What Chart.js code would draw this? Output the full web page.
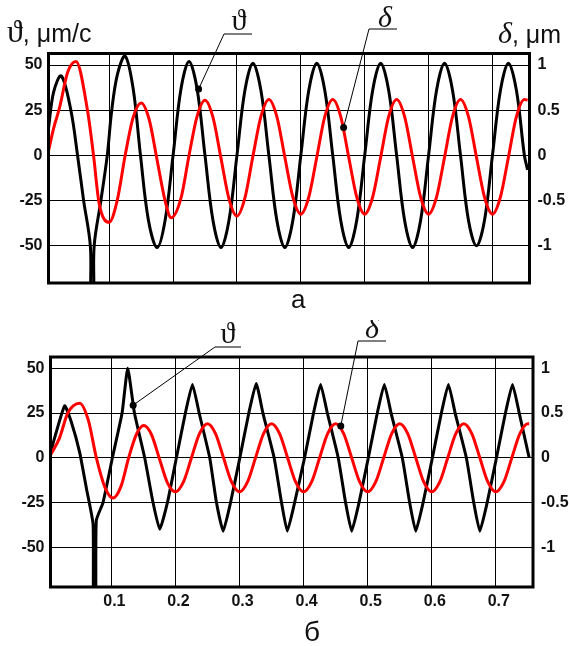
<!DOCTYPE html>
<html>
<head>
<meta charset="utf-8">
<script src="https://cdn.jsdelivr.net/npm/chart.js@4.4.1/dist/chart.umd.min.js"></script>
<style>
html, body { margin: 0; padding: 0; background: #fff; }
#wrap { position: relative; width: 569px; height: 646px; }
canvas { position: absolute; left: 0; }
#panelA { top: 0; }
#panelB { top: 320px; }
</style>
</head>
<body>
<div id="wrap">
  <canvas id="panelA" width="569" height="320"></canvas>
  <canvas id="panelB" width="569" height="326"></canvas>
</div>
<script>
const velTicks = [-50, -25, 0, 25, 50];
const dispTicks = [-1, -0.5, 0, 0.5, 1];
const timeTicks = [0.1, 0.2, 0.3, 0.4, 0.5, 0.6, 0.7];

// panel а : velocity (black, left axis) and displacement (red, right axis)
const timeVelA = [0.005, 0.013, 0.025, 0.04, 0.0505, 0.06, 0.0705, 0.0715, 0.0755, 0.0765,
    0.087, 0.097, 0.104, 0.113, 0.125, 0.1375, 0.149, 0.1615, 0.175, 0.1875, 0.2,
    0.2125, 0.225, 0.2375, 0.25, 0.2625, 0.275, 0.2875, 0.3, 0.3125, 0.325, 0.3375, 0.35,
    0.3625, 0.375, 0.3875, 0.4, 0.4125, 0.425, 0.4375, 0.45, 0.4625, 0.475, 0.4875, 0.5,
    0.5125, 0.525, 0.5375, 0.55, 0.5625, 0.575, 0.5875, 0.6, 0.6125, 0.625, 0.6375, 0.65,
    0.6625, 0.675, 0.6875, 0.7, 0.7125, 0.725, 0.7375, 0.75, 0.755];
const velA = [15, 35, 44, 25, 0, -25, -50, -80, -80, -50,
    -25, 0, 25, 45, 55, 37, 0, -36, -51, -36, 0,
    37, 52, 37, 0, -36, -51, -36, 0, 36, 51, 36, 0,
    -36, -51, -36, 0, 36, 51, 36, 0, -36, -51, -36, 0,
    36, 51, 36, 0, -36, -51, -36, 0, 36, 51, 36, 0,
    -36, -50, -36, 0, 36, 51, 36, 0, -8];

const timeDispA = [0.005, 0.013, 0.022, 0.035, 0.048, 0.066, 0.0755, 0.084, 0.1, 0.1125,
    0.125, 0.1375, 0.15, 0.1625, 0.175, 0.1875, 0.197, 0.2125, 0.225, 0.2375, 0.25,
    0.2625, 0.275, 0.2875, 0.3, 0.3125, 0.325, 0.3375, 0.35, 0.3625, 0.375, 0.3875, 0.4,
    0.4125, 0.425, 0.4375, 0.45, 0.4625, 0.475, 0.4875, 0.5, 0.5125, 0.525, 0.5375, 0.55,
    0.5625, 0.575, 0.5875, 0.6, 0.6125, 0.625, 0.6375, 0.65, 0.6625, 0.675, 0.6875, 0.7,
    0.7125, 0.725, 0.7375, 0.75, 0.755];
const dispA = [0.05, 0.3, 0.52, 0.92, 1.04, 0.5, 0, -0.52, -0.74, -0.5,
    0, 0.42, 0.58, 0.4, -0.05, -0.5, -0.69, -0.47, 0, 0.43, 0.61,
    0.42, -0.03, -0.48, -0.67, -0.47, -0.01, 0.43, 0.62, 0.43, -0.02, -0.46, -0.65,
    -0.46, -0.02, 0.43, 0.62, 0.43, -0.02, -0.46, -0.65, -0.46, -0.02, 0.43, 0.62,
    0.43, -0.02, -0.46, -0.65, -0.46, -0.02, 0.43, 0.62, 0.43, -0.02, -0.46, -0.65,
    -0.46, -0.02, 0.43, 0.62, 0.61];

// panel б
const timeVelB = [0.005, 0.027, 0.0375, 0.0505, 0.061, 0.0714, 0.072, 0.0755, 0.0765, 0.087,
    0.1016, 0.1167, 0.1255, 0.136, 0.152, 0.165, 0.1755,
    0.1875, 0.2015, 0.2155, 0.2265, 0.237, 0.2535, 0.264, 0.2745,
    0.286, 0.3005, 0.3145, 0.326, 0.3365, 0.354, 0.3655, 0.3745,
    0.386, 0.4015, 0.4155, 0.4265, 0.437, 0.454, 0.4655, 0.475,
    0.4865, 0.501, 0.515, 0.526, 0.5365, 0.554, 0.5655, 0.575,
    0.5865, 0.601, 0.615, 0.626, 0.6365, 0.654, 0.6655, 0.675,
    0.6865, 0.701, 0.715, 0.726, 0.7365, 0.752];
const velB = [3, 29, 20, 3, -17, -37, -80, -80, -35, -25,
    0, 25, 50, 25, 0, -25, -40,
    -25, 0, 25, 41, 25, 0, -25, -41,
    -25, 0, 25, 41.5, 25, 0, -25, -41,
    -25, 0, 25, 41, 25, 0, -25, -41,
    -25, 0, 25, 41, 25, 0, -25, -41,
    -25, 0, 25, 41, 25, 0, -25, -41,
    -25, 0, 25, 41, 25, 0];

const timeDispB = [0.005, 0.019, 0.032, 0.0505, 0.064, 0.0766, 0.09, 0.1026, 0.115, 0.127,
    0.139, 0.1505, 0.1625, 0.175, 0.1875, 0.2,
    0.2125, 0.225, 0.2375, 0.25, 0.2625, 0.275, 0.2875, 0.3, 0.3125, 0.325, 0.3375, 0.35,
    0.3625, 0.375, 0.3875, 0.4, 0.4125, 0.425, 0.4375, 0.45, 0.4625, 0.475, 0.4875, 0.5,
    0.5125, 0.525, 0.5375, 0.55, 0.5625, 0.575, 0.5875, 0.6, 0.6125, 0.625, 0.6375, 0.65,
    0.6625, 0.675, 0.6875, 0.7, 0.7125, 0.725, 0.7375, 0.75, 0.752];
const dispB = [0.03, 0.22, 0.5, 0.61, 0.42, 0, -0.33, -0.45, -0.32, 0,
    0.26, 0.36, 0.26, -0.01, -0.28, -0.38,
    -0.27, 0, 0.27, 0.38, 0.27, 0, -0.27, -0.38, -0.27, 0, 0.27, 0.38,
    0.27, 0, -0.27, -0.38, -0.27, 0, 0.27, 0.38, 0.27, 0, -0.27, -0.38,
    -0.27, 0, 0.27, 0.38, 0.27, 0, -0.27, -0.38, -0.27, 0, 0.27, 0.38,
    0.27, 0, -0.27, -0.38, -0.27, 0, 0.27, 0.38, 0.38];

const serif = '"Liberation Serif", "DejaVu Serif", serif';
const sans = '"Liberation Sans", Arial, sans-serif';
const tickFont = { family: sans, size: 16, weight: 'bold' };

function pairs(xs, ys) {
    return xs.map((x, i) => ({ x: x, y: ys[i] }));
}

// thick box around the plot area
const framePlugin = {
    id: 'frame',
    afterDatasetsDraw(chart) {
        const ctx = chart.ctx;
        const a = chart.chartArea;
        ctx.save();
        ctx.lineWidth = 3;
        ctx.strokeStyle = '#000';
        ctx.strokeRect(a.left, a.top, a.right - a.left, a.bottom - a.top);
        ctx.restore();
    }
};

// axis titles, panel letter and the callout labels with leader lines
const notesPlugin = {
    id: 'notes',
    afterDraw(chart, args, opts) {
        const ctx = chart.ctx;
        ctx.save();
        ctx.textBaseline = 'alphabetic';
        (opts.callouts || []).forEach(c => {
            const px = chart.scales.x.getPixelForValue(c.at[0]);
            const py = chart.scales[c.axis].getPixelForValue(c.at[1]);
            ctx.strokeStyle = '#000';
            ctx.lineWidth = 1;
            ctx.beginPath();
            ctx.moveTo(c.line[1], c.line[2]);
            ctx.lineTo(c.line[0], c.line[2]);
            ctx.lineTo(px, py);
            ctx.stroke();
            ctx.fillStyle = '#000';
            ctx.beginPath();
            ctx.arc(px, py, 3.5, 0, Math.PI * 2);
            ctx.fill();
            ctx.fillStyle = '#111';
            ctx.font = c.font;
            ctx.textAlign = 'center';
            ctx.fillText(c.text, c.pos[0], c.pos[1]);
        });
        (opts.texts || []).forEach(t => {
            let x = t.x;
            ctx.fillStyle = '#111';
            ctx.textAlign = 'left';
            t.parts.forEach(p => {
                ctx.font = p[1];
                ctx.fillText(p[0], x, t.y);
                x += ctx.measureText(p[0]).width;
            });
        });
        ctx.restore();
    }
};

function panelConfig(s) {
    return {
        type: 'line',
        data: {
            datasets: [{
                data: pairs(s.timeDisp, s.disp),
                borderColor: '#ff0000',
                borderWidth: 3,
                pointRadius: 0,
                cubicInterpolationMode: 'monotone',
                yAxisID: 'y1'
            }, {
                data: pairs(s.timeVel, s.vel),
                borderColor: '#000',
                borderWidth: 3,
                pointRadius: 0,
                tension: s.velTension,
                yAxisID: 'y'
            }]
        },
        options: {
            responsive: false,
            animation: false,
            devicePixelRatio: 1,
            layout: { padding: { top: s.padTop, bottom: s.padBottom, left: 0, right: 0 } },
            plugins: {
                legend: { display: false },
                tooltip: { enabled: false },
                notes: s.notes
            },
            scales: {
                x: {
                    type: 'linear',
                    min: 0.005,
                    max: 0.758,
                    afterBuildTicks: sc => { sc.ticks = timeTicks.map(v => ({ value: v })); },
                    afterFit: sc => { sc.height = s.xHeight; },
                    grid: { color: '#000', lineWidth: 1, drawTicks: false },
                    border: { display: false },
                    ticks: {
                        display: s.xLabels,
                        padding: 5,
                        labelOffset: 3,
                        maxRotation: 0,
                        autoSkip: false,
                        color: '#111',
                        font: tickFont,
                        callback: v => String(+v.toFixed(1))
                    }
                },
                y: {
                    type: 'linear',
                    position: 'left',
                    min: s.yMin,
                    max: s.yMax,
                    afterBuildTicks: sc => { sc.ticks = velTicks.map(v => ({ value: v })); },
                    afterFit: sc => { sc.width = s.leftWidth; },
                    grid: { color: '#000', lineWidth: 1, drawTicks: false },
                    border: { display: false },
                    ticks: { padding: 6, color: '#111', font: tickFont, callback: v => String(v) }
                },
                y1: {
                    type: 'linear',
                    position: 'right',
                    min: s.yMin / 50,
                    max: s.yMax / 50,
                    afterBuildTicks: sc => { sc.ticks = dispTicks.map(v => ({ value: v })); },
                    afterFit: sc => { sc.width = s.rightWidth; },
                    grid: { display: false, drawTicks: false },
                    border: { display: false },
                    ticks: { padding: 8, color: '#111', font: tickFont, callback: v => String(v) }
                }
            }
        },
        plugins: [framePlugin, notesPlugin]
    };
}

new Chart(document.getElementById('panelA'), panelConfig({
    timeVel: timeVelA, vel: velA, timeDisp: timeDispA, disp: dispA,
    velTension: 0.35,
    padTop: 53.5, padBottom: 37, xHeight: 0, xLabels: false,
    leftWidth: 48.5, rightWidth: 39.5, yMin: -70.6, yMax: 56.4,
    notes: {
        callouts: [
            { text: 'ϑ', font: '30px ' + serif, pos: [239, 30], line: [224, 252, 34], at: [0.24, 36.7], axis: 'y' },
            { text: 'δ', font: 'italic 30px ' + serif, pos: [385, 27], line: [369, 397, 29], at: [0.467, 0.31], axis: 'y1' }
        ],
        texts: [
            { x: 7, y: 42, parts: [['ϑ', '32px ' + serif], [', μm/c', '25px ' + sans]] },
            { x: 498, y: 43, parts: [['δ', 'italic 30px ' + serif], [', μm', '25px ' + sans]] },
            { x: 291, y: 308, parts: [['а', '26px ' + sans]] }
        ]
    }
}));

new Chart(document.getElementById('panelB'), panelConfig({
    timeVel: timeVelB, vel: velB, timeDisp: timeDispB, disp: dispB,
    velTension: 0.15,
    padTop: 37, padBottom: 29, xHeight: 30, xLabels: true,
    leftWidth: 50.5, rightWidth: 36, yMin: -72.2, yMax: 56.3,
    notes: {
        callouts: [
            { text: 'ϑ', font: '30px ' + serif, pos: [228, 23], line: [215, 241, 27], at: [0.134, 29.4], axis: 'y' },
            { text: 'δ', font: 'italic 30px ' + serif, pos: [372, 18], line: [358, 386, 21], at: [0.458, 0.356], axis: 'y1' }
        ],
        texts: [
            { x: 304, y: 321, parts: [['б', '28px ' + sans]] }
        ]
    }
}));
</script>
</body>
</html>
